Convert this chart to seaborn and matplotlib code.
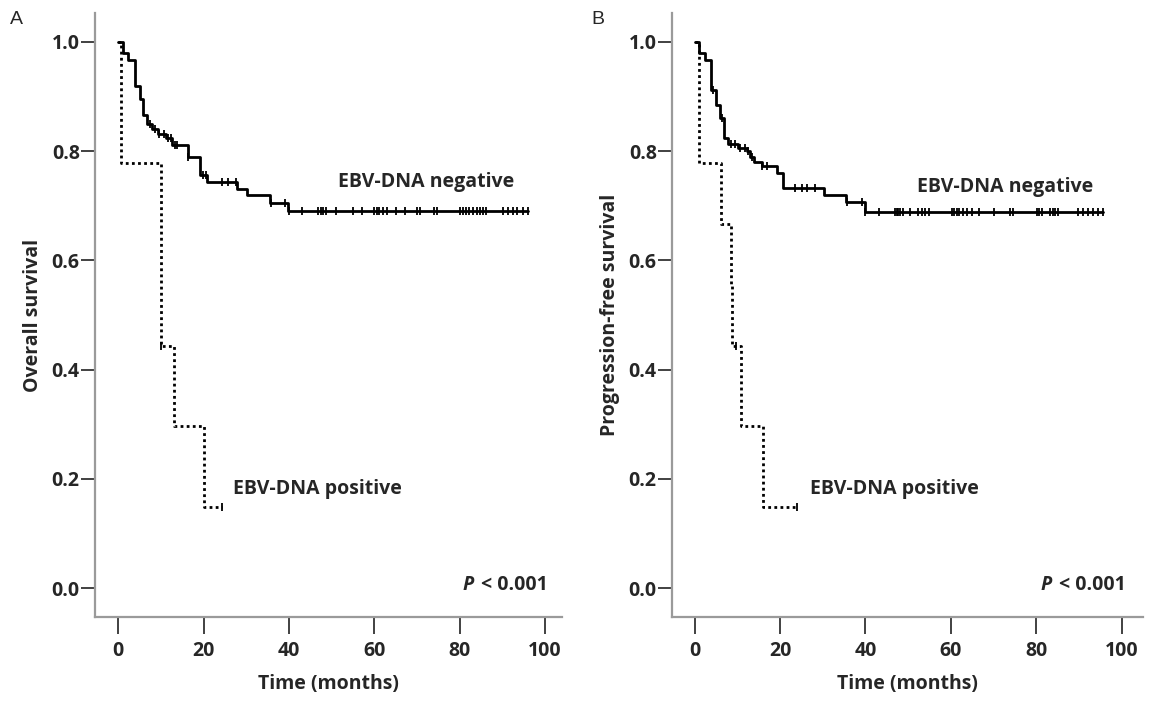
import numpy as np
import pandas as pd
import matplotlib
matplotlib.use('Agg')
import matplotlib.pyplot as plt
import seaborn as sns

# --- data ---

# Panel A: overall survival
os_neg_times = [0, 1.1, 2.3, 3.9, 5.1, 5.8, 6.7, 7.9, 9.4, 11.2, 12.6, 16.4, 19.1, 20.7, 27.8, 30.1, 35.5, 39.7]
os_neg_surv = [1.0, 0.98, 0.967, 0.92, 0.896, 0.866, 0.85, 0.84, 0.832, 0.824, 0.812, 0.79, 0.756, 0.743, 0.73, 0.72, 0.705, 0.69]
os_neg_end = 96.1
os_neg_censor = [7.4, 8.6, 9.6, 10.7, 11.7, 12.3, 13.3, 13.8, 16.4, 19.9, 20.6, 24.2, 25.8, 27.7,
                 35.9, 39.1, 40.1, 43.0, 46.9, 47.4, 47.9, 48.8, 51.0, 55.1, 57.2, 59.9, 60.6,
                 61.2, 62.1, 63.0, 65.2, 67.2, 69.9, 70.7, 74.1, 74.6, 80.1, 80.8, 81.5, 82.3,
                 83.1, 84.0, 84.8, 85.5, 86.3, 90.1, 91.4, 92.6, 93.4, 94.9, 96.1]

os_pos_times = [0, 0.6, 10.0, 13.1, 20.2]
os_pos_surv = [1.0, 0.778, 0.444, 0.296, 0.148]
os_pos_end = 24.2
os_pos_censor = [10.1, 24.2]

# Panel B: progression-free survival
pfs_neg_times = [0, 1.0, 2.5, 3.8, 4.9, 6.0, 6.8, 7.9, 10.2, 12.3, 13.0, 13.8, 15.8, 19.3, 20.8, 30.2, 35.5, 39.8]
pfs_neg_surv = [1.0, 0.979, 0.967, 0.912, 0.885, 0.86, 0.824, 0.814, 0.806, 0.80, 0.79, 0.78, 0.772, 0.76, 0.732, 0.72, 0.707, 0.689]
pfs_neg_end = 95.7
pfs_neg_censor = [4.3, 6.4, 8.4, 9.5, 10.7, 11.9, 12.6, 13.4, 15.8, 16.9, 23.6, 25.1, 26.3, 28.2,
                  35.7, 39.2, 39.9, 43.1, 47.0, 47.4, 47.7, 48.1, 48.8, 50.5, 52.4, 53.2, 54.0,
                  54.8, 60.2, 60.8, 61.4, 62.0, 62.9, 63.7, 64.9, 66.5, 70.0, 73.9, 74.5, 80.1,
                  80.7, 81.4, 83.2, 83.9, 84.5, 85.1, 89.8, 91.0, 92.2, 93.4, 94.5, 95.7]

pfs_pos_times = [0, 1.0, 6.1, 8.4, 8.8, 10.9, 15.9]
pfs_pos_surv = [1.0, 0.778, 0.667, 0.556, 0.444, 0.296, 0.148]
pfs_pos_end = 23.9
pfs_pos_censor = [9.8, 23.9]

x_ticks = [0, 20, 40, 60, 80, 100]
y_ticks = [0.0, 0.2, 0.4, 0.6, 0.8, 1.0]

# --- plotting ---
sns.set_style('white')
plt.rcParams['font.family'] = ['Open Sans', 'DejaVu Sans']

fig = plt.figure(figsize=(11.49, 7.15), dpi=100)
W, H = 1149, 715
axA = fig.add_axes([95 / W, 98 / H, (562 - 95) / W, (617 - 13) / H])
axB = fig.add_axes([672 / W, 98 / H, (1143 - 672) / W, (617 - 13) / H])


def km_curve(ax, times, surv, end, censor, style):
    t = list(times) + [end]
    s = list(surv) + [surv[-1]]
    sns.lineplot(x=t, y=s, ax=ax, drawstyle='steps-post', estimator=None, sort=False,
                 color='black', lw=2.0, linestyle=style)
    idx = np.searchsorted(times, censor, side='right') - 1
    cs = np.array(surv)[idx]
    sns.scatterplot(x=censor, y=cs, ax=ax, marker='|', s=30, color='black', linewidth=1.3)


panels = [
    (axA, 'Overall survival', (os_neg_times, os_neg_surv, os_neg_end, os_neg_censor),
     (os_pos_times, os_pos_surv, os_pos_end, os_pos_censor), (-5.46, 104.0),
     (51.5, 0.744), (26.9, 0.181), 100.7),
    (axB, 'Progression-free survival', (pfs_neg_times, pfs_neg_surv, pfs_neg_end, pfs_neg_censor),
     (pfs_pos_times, pfs_pos_surv, pfs_pos_end, pfs_pos_censor), (-5.3, 105.0),
     (52.1, 0.734), (27.0, 0.181), 101.0),
]

for ax, ylab, neg, pos, xl, neg_xy, pos_xy, p_x in panels:
    km_curve(ax, *neg, style='-')
    km_curve(ax, *pos, style=(0, (1, 1.2)))
    ax.set_xlim(*xl)
    ax.set_ylim(-0.053, 1.053)
    ax.set_xticks(x_ticks)
    ax.set_yticks(y_ticks)
    ax.set_xticklabels([str(v) for v in x_ticks], fontsize=14, fontweight='bold')
    ax.set_yticklabels([f'{v:.1f}' for v in y_ticks], fontsize=14, fontweight='bold')
    ax.set_xlabel('Time (months)', fontsize=14, fontweight='bold', labelpad=10)
    ax.set_ylabel(ylab, fontsize=14, fontweight='bold', labelpad=6)
    sns.despine(ax=ax)
    for sp in ['left', 'bottom']:
        ax.spines[sp].set_color('#9a9a9a')
        ax.spines[sp].set_linewidth(1.6)
    ax.tick_params(axis='y', length=10, width=1.3, color='#333333', pad=1, left=True)
    ax.tick_params(axis='x', length=12, width=1.3, color='#333333', pad=5, bottom=True)
    ax.text(neg_xy[0], neg_xy[1], 'EBV-DNA negative', fontsize=14, fontweight='bold',
            va='center', ha='left')
    ax.text(pos_xy[0], pos_xy[1], 'EBV-DNA positive', fontsize=14, fontweight='bold',
            va='center', ha='left')
    ax.text(p_x, 0.005, '< 0.001', fontsize=14, fontweight='bold', va='center', ha='right')
    ax.text(p_x - 17.3, 0.005, 'P', fontsize=14, fontweight='bold', style='italic',
            va='center', ha='right')

fig.text(10 / W, 1 - 20 / H, 'A', fontsize=14, family='Liberation Sans', va='center', ha='left')
fig.text(591 / W, 1 - 20 / H, 'B', fontsize=14, family='Liberation Sans', va='center', ha='left')

plt.savefig('out.png', dpi=100)
